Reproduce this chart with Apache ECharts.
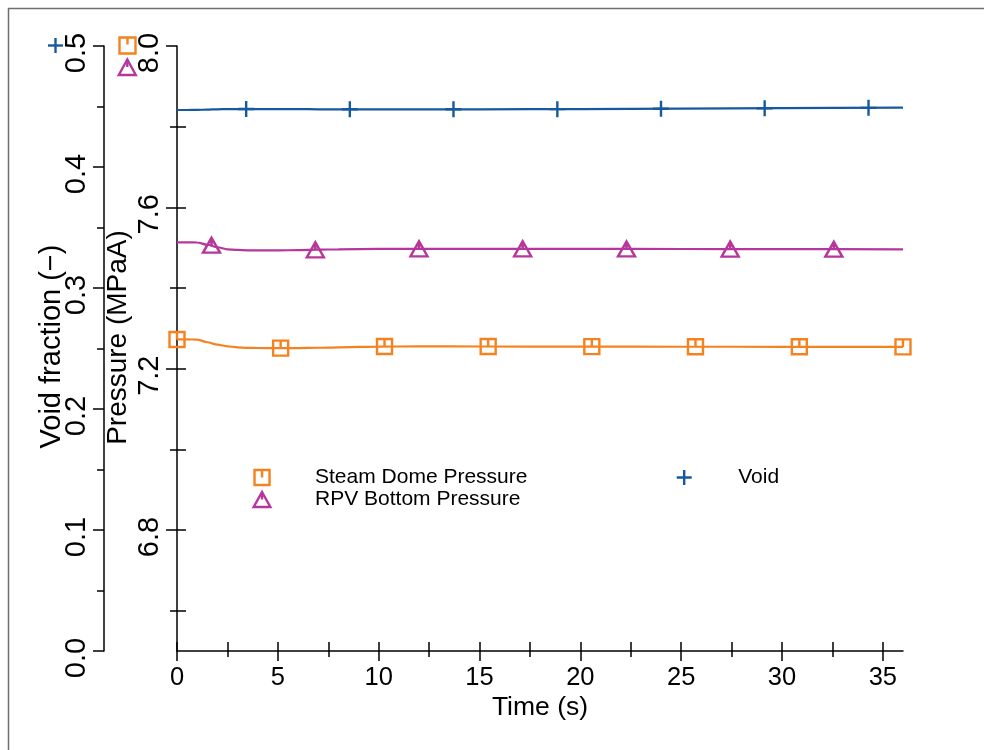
<!DOCTYPE html>
<html>
<head>
<meta charset="utf-8">
<script src="https://cdn.jsdelivr.net/npm/echarts@6/dist/echarts.min.js"></script>
<style>html,body{margin:0;padding:0;background:#fff}#c{width:984px;height:750px}</style>
</head>
<body>
<div id="c"></div>
<script>
// ---- data ----
const time       = [0, 0.5, 1.0, 1.5, 2.0, 2.5, 3.0, 3.5, 4.0, 5.0, 6.0, 7.0, 8.0, 10.0, 12.0, 15.0, 20.0, 25.0, 30.0, 36.0];
const steamDome  = [7.2724, 7.2724, 7.2722, 7.2655, 7.2595, 7.2555, 7.2530, 7.2517, 7.2512, 7.2508, 7.2510, 7.2518, 7.2530, 7.2548, 7.2552, 7.2550, 7.2547, 7.2544, 7.2542, 7.2540];
const rpvBottom  = [7.5130, 7.5130, 7.5128, 7.5072, 7.5010, 7.4960, 7.4943, 7.4935, 7.4932, 7.4932, 7.4940, 7.4950, 7.4960, 7.4970, 7.4972, 7.4972, 7.4970, 7.4967, 7.4963, 7.4960];
const voidFrac   = [0.4471, 0.4471, 0.4472, 0.4474, 0.4477, 0.4478, 0.4479, 0.4479, 0.4479, 0.4478, 0.4478, 0.4477, 0.4477, 0.4477, 0.4477, 0.4477, 0.4479, 0.4483, 0.4487, 0.4490];

// marker positions along the curves
const sdMarkT    = [0, 5.14, 10.29, 15.43, 20.57, 25.71, 30.86, 36.0];
const sdMarkV    = [7.2724, 7.2509, 7.2549, 7.2550, 7.2547, 7.2544, 7.2542, 7.2540];
const rpvMarkT   = [1.71, 6.86, 12.0, 17.14, 22.29, 27.43, 32.57];
const rpvMarkV   = [7.5062, 7.4948, 7.4972, 7.4971, 7.4969, 7.4966, 7.4962];
const voidMarkT  = [3.43, 8.57, 13.71, 18.86, 24.0, 29.14, 34.29];
const voidMarkV  = [0.4479, 0.4477, 0.4477, 0.4478, 0.4482, 0.4486, 0.4489];

// ticks
const xMajorTicks     = [0, 5, 10, 15, 20, 25, 30, 35];
const xMinorTicks     = [2.5, 7.5, 12.5, 17.5, 22.5, 27.5, 32.5];
const xTopTicks       = [0, 2.5, 5, 7.5, 10, 12.5, 15, 17.5, 20, 22.5, 25, 27.5, 30, 32.5, 35];
const pressureTicks   = [6.8, 7.2, 7.6, 8.0];
const pressureMinor   = [6.6, 7.0, 7.4, 7.8];
const pressureRight   = [6.6, 6.8, 7.0, 7.2, 7.4, 7.6, 7.8];

const seriesNames = ['Steam Dome Pressure', 'RPV Bottom Pressure', 'Void'];

// ---- styling ----
const FONT = "'Liberation Sans', Arial, Helvetica, sans-serif";
const C_SD = '#f58220', C_RPV = '#b5379b', C_VOID = '#17599f';
const AX = {color: '#000', width: 1.5};
const SYM_SQ = 'path://M0,0H10V10H0Z M5,0V5';
const SYM_TRI = 'path://M5,0L10,9L0,9Z M5,0V4.5';
const SYM_PLUS = 'path://M5,0V10M0,5H10';
const CLEAR = 'rgba(0,0,0,0)';
const MW = 2.4;
const LW = 2.2;

const pairs = (xs, ys) => xs.map((x, i) => [x, ys[i]]);
const hiddenAxisBase = {axisLine: {show: false}, axisLabel: {show: false}, splitLine: {show: false}};

const chart = echarts.init(document.getElementById('c'), null, {renderer: 'canvas'});
const option = {
  animation: false,
  backgroundColor: '#fff',
  textStyle: {fontFamily: FONT},
  grid: {left: 177, top: 46, width: 726, height: 605, containLabel: false, outerBoundsMode: 'none'},
  xAxis: [
    {
      type: 'value', position: 'bottom', min: 0, max: 36,
      axisLine: {show: true, onZero: false, lineStyle: AX},
      axisTick: {show: true, length: 10, customValues: xMajorTicks, lineStyle: AX},
      axisLabel: {customValues: xMajorTicks, margin: 14, fontSize: 25.5, color: '#000', fontFamily: FONT},
      splitLine: {show: false},
      name: 'Time (s)', nameLocation: 'middle', nameGap: 43.6, nameMoveOverlap: false,
      nameTextStyle: {fontSize: 26.5, color: '#000', fontFamily: FONT}
    },
    Object.assign({type: 'value', position: 'top', min: 0, max: 36,
      axisTick: {show: true, length: 9, customValues: xTopTicks, lineStyle: AX}}, hiddenAxisBase),
    Object.assign({type: 'value', position: 'bottom', offset: 0, min: 0, max: 36,
      axisTick: {show: true, length: 6, customValues: xMinorTicks, lineStyle: AX}}, hiddenAxisBase)
  ],
  yAxis: [
    {
      type: 'value', position: 'left', offset: 0, min: 6.5, max: 8.0,
      axisLine: {show: true, onZero: false, lineStyle: AX},
      axisTick: {show: true, length: 11, customValues: pressureTicks, lineStyle: AX},
      axisLabel: {customValues: pressureTicks, formatter: v => v.toFixed(1), rotate: 90, margin: 13,
        padding: [0, 14, 0, 0], fontSize: 29, color: '#000', fontFamily: FONT},
      splitLine: {show: false},
      name: 'Pressure (MPaA)', nameLocation: 'middle', nameRotate: 90, nameGap: 44.7, nameMoveOverlap: false,
      nameTextStyle: {fontSize: 28, color: '#000', fontFamily: FONT, padding: [0, 0, 0, 22]}
    },
    {
      type: 'value', position: 'left', offset: 73, min: 0, max: 0.5, interval: 0.1,
      axisLine: {show: true, onZero: false, lineStyle: AX},
      axisTick: {show: true, length: 11, lineStyle: AX},
      minorTick: {show: true, splitNumber: 2, length: 7, lineStyle: AX},
      axisLabel: {formatter: v => v.toFixed(1), rotate: 90, margin: 13, padding: [0, 14, 0, 0],
        fontSize: 29, color: '#000', fontFamily: FONT},
      splitLine: {show: false},
      name: 'Void fraction (\u2212)', nameLocation: 'middle', nameRotate: 90, nameGap: 37.8, nameMoveOverlap: false,
      nameTextStyle: {fontSize: 29, color: '#000', fontFamily: FONT, padding: [0, 0, 0, 4]}
    },
    Object.assign({type: 'value', position: 'left', offset: 0, min: 6.5, max: 8.0,
      axisTick: {show: true, length: 7, customValues: pressureMinor, lineStyle: AX}}, hiddenAxisBase),
    Object.assign({type: 'value', position: 'right', offset: 0, min: 6.5, max: 8.0,
      axisTick: {show: true, length: 9, customValues: pressureRight, lineStyle: AX}}, hiddenAxisBase)
  ],
  legend: [
    {
      data: [seriesNames[0], seriesNames[1]], orient: 'vertical', left: 247.5, top: 462,
      itemWidth: 96, itemHeight: 15, itemGap: 1, selectedMode: false,
      itemStyle: {opacity: 1, borderWidth: MW},
      textStyle: {fontSize: 21, color: '#000', fontFamily: FONT}
    },
    {
      data: [seriesNames[2]], orient: 'vertical', left: 670.5, top: 462,
      itemWidth: 98, itemHeight: 15, itemGap: 1, selectedMode: false,
      itemStyle: {opacity: 1, borderWidth: MW},
      textStyle: {fontSize: 21, color: '#000', fontFamily: FONT}
    }
  ],
  graphic: [
    {type: 'rect', silent: true, z: -10, shape: {x: 8.5, y: 8.5, width: 1100, height: 1000},
      style: {fill: 'none', stroke: '#6e6e6e', lineWidth: 1.5}},
    {type: 'line', silent: true, shape: {x1: 48, y1: 45.5, x2: 63, y2: 45.5}, style: {stroke: C_VOID, lineWidth: MW}},
    {type: 'line', silent: true, shape: {x1: 55.5, y1: 38, x2: 55.5, y2: 53}, style: {stroke: C_VOID, lineWidth: MW}},
    {type: 'rect', silent: true, shape: {x: 119.5, y: 37.5, width: 16, height: 16}, style: {fill: 'none', stroke: C_SD, lineWidth: MW}},
    {type: 'line', silent: true, shape: {x1: 127.5, y1: 37.5, x2: 127.5, y2: 44.5}, style: {stroke: C_SD, lineWidth: MW}},
    {type: 'polygon', silent: true, shape: {points: [[127.3, 59.5], [118.8, 75], [135.8, 75]]}, style: {fill: 'none', stroke: C_RPV, lineWidth: MW}},
    {type: 'line', silent: true, shape: {x1: 127.3, y1: 59.5, x2: 127.3, y2: 67}, style: {stroke: C_RPV, lineWidth: MW}}
  ],
  series: [
    {type: 'scatter', name: seriesNames[0], xAxisIndex: 0, yAxisIndex: 0, data: pairs(sdMarkT, sdMarkV),
      symbol: SYM_SQ, symbolSize: 15, z: 5, silent: true,
      itemStyle: {color: CLEAR, borderColor: C_SD, borderWidth: MW, opacity: 1}},
    {type: 'scatter', name: seriesNames[1], xAxisIndex: 0, yAxisIndex: 0, data: pairs(rpvMarkT, rpvMarkV),
      symbol: SYM_TRI, symbolSize: [17, 15], z: 5, silent: true,
      itemStyle: {color: CLEAR, borderColor: C_RPV, borderWidth: MW, opacity: 1}},
    {type: 'scatter', name: seriesNames[2], xAxisIndex: 0, yAxisIndex: 1, data: pairs(voidMarkT, voidMarkV),
      symbol: SYM_PLUS, symbolSize: 16, z: 5, silent: true,
      itemStyle: {color: CLEAR, borderColor: C_VOID, borderWidth: MW, opacity: 1}},
    {type: 'line', name: seriesNames[0], xAxisIndex: 0, yAxisIndex: 0, data: pairs(time, steamDome),
      symbol: 'none', smooth: 0.3, smoothMonotone: 'x', z: 3, silent: true,
      itemStyle: {color: C_SD}, lineStyle: {color: C_SD, width: LW}},
    {type: 'line', name: seriesNames[1], xAxisIndex: 0, yAxisIndex: 0, data: pairs(time, rpvBottom),
      symbol: 'none', smooth: 0.3, smoothMonotone: 'x', z: 3, silent: true,
      itemStyle: {color: C_RPV}, lineStyle: {color: C_RPV, width: LW}},
    {type: 'line', name: seriesNames[2], xAxisIndex: 0, yAxisIndex: 1, data: pairs(time, voidFrac),
      symbol: 'none', smooth: 0.3, smoothMonotone: 'x', z: 3, silent: true,
      itemStyle: {color: C_VOID}, lineStyle: {color: C_VOID, width: LW}}
  ]
};
chart.setOption(option);
</script>
</body>
</html>
